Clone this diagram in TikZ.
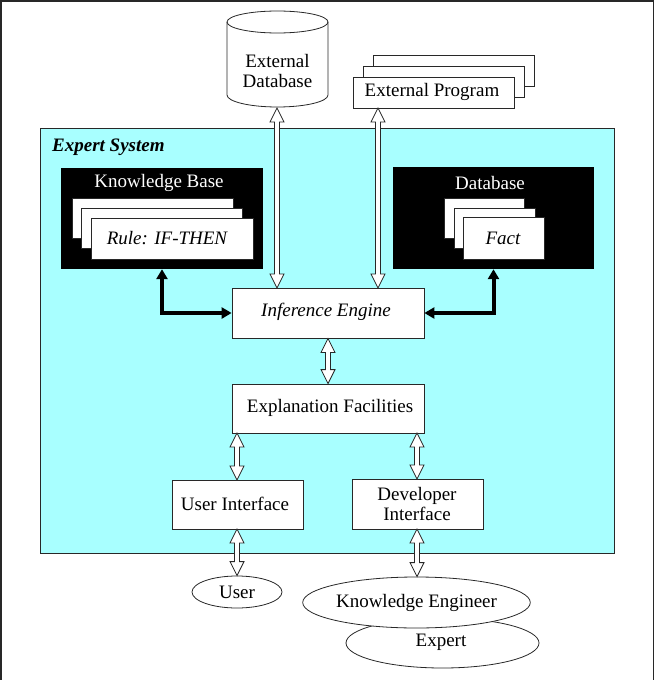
\documentclass[tikz,border=0pt]{standalone}
\usepackage{fontspec}
\setmainfont{Liberation Serif}
\usetikzlibrary{arrows.meta,shapes.geometric,calc}
\definecolor{sysfill}{RGB}{168,255,255}
\definecolor{edge}{RGB}{40,40,40}
\newcommand\hollowarrow[2]{%
  \path[draw=edge,line width=0.8pt,fill=white] let \p1=#1, \p2=#2 in
   (\x1,\y1) -- (\x1+7pt,\y1-14pt) -- (\x1+2.5pt,\y1-14pt) -- (\x1+2.5pt,\y2+14pt)
   -- (\x1+7pt,\y2+14pt) -- (\x1,\y2) -- (\x1-7pt,\y2+14pt) -- (\x1-2.5pt,\y2+14pt)
   -- (\x1-2.5pt,\y1-14pt) -- (\x1-7pt,\y1-14pt) -- cycle;}
\tikzset{
  txt/.style={font=\fontsize{19}{20}\selectfont, align=center, inner sep=0pt},
  wbox/.style={draw=edge, line width=0.8pt, fill=white, inner sep=0pt, minimum width=#1},
  bbox/.style={fill=black, inner sep=0pt},
  card/.style={draw=edge, line width=0.8pt, fill=white, inner sep=0pt},
  oval/.style={ellipse, draw=edge, line width=0.8pt, fill=white, inner sep=0pt, font=\fontsize{19}{20}\selectfont},
  thickarrow/.style={line width=4pt, line join=miter, {Triangle[width=11pt,length=10pt]}-{Triangle[width=11pt,length=10pt]}}
}
\begin{document}
\begin{tikzpicture}[x=1pt,y=1pt]
\useasboundingbox (0,0) rectangle (654,-680);
% outer frame
\draw[edge, line width=1.5pt] (0.75,-680) -- (0.75,-0.75) -- (653.25,-0.75) -- (653.25,-680);

% expert system area
\node[draw=edge, line width=0.8pt, fill=sysfill, minimum width=574pt, minimum height=425pt, inner sep=0pt, anchor=north west] (es) at (40,-128) {};
\node[txt, anchor=west, font=\fontsize{19}{20}\selectfont\bfseries\itshape] (estitle) at (52,-147) {Expert System};

% external database cylinder
\draw[draw=edge, line width=0.8pt, fill=white] (227,-22) -- (227,-95) arc[start angle=180, end angle=360, x radius=50.5, y radius=12] -- (328,-22) arc[start angle=0, end angle=180, x radius=50.5, y radius=11] -- cycle;
\draw[draw=edge, line width=0.8pt] (227,-22) arc[start angle=180, end angle=360, x radius=50.5, y radius=11];
\node[minimum width=101pt, minimum height=96pt, inner sep=0pt] (extdb) at (277.5,-59) {};
\node[txt] (extdbtxt) at (277.5,-71) {External\\Database};

% external program stacked boxes
\node[card, minimum width=161pt, minimum height=31pt] (ep3) at (453.5,-70.5) {};
\node[card, minimum width=161pt, minimum height=31pt] (ep2) at (443.5,-81.5) {};
\node[card, minimum width=161pt, minimum height=31pt, txt] (extprog) at (433.5,-92.5) {};
\node[txt] (extprogtxt) at (432,-92) {External Program};

% knowledge base
\node[bbox, minimum width=202pt, minimum height=101pt] (kb) at (162,-218.5) {};
\node[txt, text=white] (kbtxt) at (159,-183) {Knowledge Base};
\node[card, minimum width=161pt, minimum height=40pt] (r3) at (152.5,-218) {};
\node[card, minimum width=161pt, minimum height=40pt] (r2) at (161.5,-228) {};
\node[card, minimum width=162pt, minimum height=41pt] (r1) at (172,-238.5) {};
\node[txt, font=\fontsize{19}{20}\selectfont\itshape] (ruletxt) at (167,-238) {Rule: IF-THEN};

% database
\node[bbox, minimum width=201pt, minimum height=102pt] (db) at (493.5,-218) {};
\node[txt, text=white] (dbtxt) at (490,-183) {Database};
\node[card, minimum width=80pt, minimum height=40pt] (f3) at (484,-218) {};
\node[card, minimum width=81pt, minimum height=40pt] (f2) at (494.5,-228) {};
\node[card, minimum width=81pt, minimum height=42pt] (f1) at (503.5,-238) {};
\node[txt, font=\fontsize{19}{20}\selectfont\itshape] (facttxt) at (503,-238) {Fact};

% inference engine
\node[wbox=192pt, minimum height=50pt] (inf) at (328,-313) {};
\node[txt, font=\fontsize{19}{20}\selectfont\itshape] (inftxt) at (326,-312) {Inference Engine};

% explanation facilities
\node[wbox=192pt, minimum height=49pt] (expl) at (328,-408.5) {};
\node[txt] (expltxt) at (330,-408) {Explanation Facilities};

% interfaces
\node[wbox=131pt, minimum height=49pt] (ui) at (237.5,-504.5) {};
\node[txt] (uitxt) at (235,-504) {User Interface};
\node[wbox=131pt, minimum height=50pt] (dev) at (417.5,-504) {};
\node[txt] (devtxt) at (417,-504) {Developer\\Interface};

% people
\node[oval, minimum width=90pt, minimum height=32pt] (user) at (237,-592) {User};
\node[oval, minimum width=193pt, minimum height=50pt] (expert) at (442.5,-643) {};
\node[txt] (experttxt) at (441,-642) {Expert};
\node[oval, minimum width=191pt, minimum height=51pt] (ke) at (416.5,-602.5) {Knowledge Engineer};

% hollow double arrows
\hollowarrow{(277,-108)}{(277,-288)}
\hollowarrow{(378,-108)}{(378,-288)}
\hollowarrow{(inf.south)}{(expl.north)}
\hollowarrow{(237,-433)}{(237,-480)}
\hollowarrow{(417,-433)}{(417,-479)}
\hollowarrow{(237,-529)}{(user.north)}
\hollowarrow{(417,-529)}{(ke.north)}

% thick black arrows
\draw[thickarrow] (kb.south) |- (inf.west);
\draw[thickarrow] (db.south) |- (inf.east);
\end{tikzpicture}
\end{document}
